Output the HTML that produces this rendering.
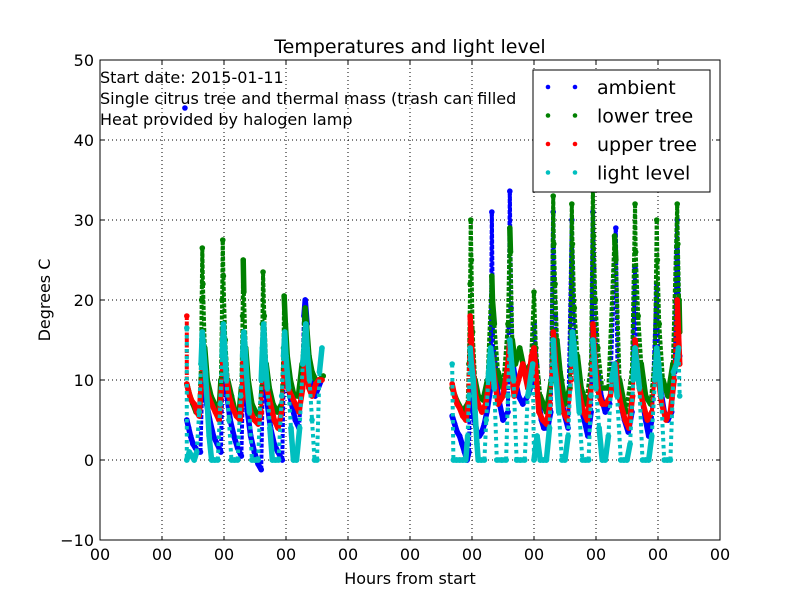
<!DOCTYPE html>
<html><head><meta charset="utf-8">
<style>
body{margin:0;background:#fff;}
svg{display:block;font-family:"DejaVu Sans","Liberation Sans",sans-serif;}
</style></head>
<body>
<svg id="chart" width="800" height="600" viewBox="0 0 800 600" xmlns="http://www.w3.org/2000/svg">
<rect x="0" y="0" width="800" height="600" fill="#fff"/>
<g id="grid"></g>
<g id="series"></g>
<rect x="100" y="60" width="620" height="480" fill="none" stroke="#000" stroke-width="1"/>
<g id="ticks"></g>
<text x="410" y="53" text-anchor="middle" font-size="19">Temperatures and light level</text>
<text x="410" y="584" text-anchor="middle" font-size="16">Hours from start</text>
<text x="50" y="300" text-anchor="middle" font-size="16" transform="rotate(-90 50 300)">Degrees C</text>
<g font-size="16">
<text x="100" y="83">Start date: 2015-01-11</text>
<text x="100" y="104">Single citrus tree and thermal mass (trash can filled</text>
<text x="100" y="125">Heat provided by halogen lamp</text>
</g>
<g id="legend">
<rect x="533" y="70" width="177" height="122" fill="#fff" stroke="#000" stroke-width="1"/>
</g>
</svg>
<script>
const yTicks=[-10,0,10,20,30,40,50];
const xTicks=[0,10,20,30,40,50,60,70,80,90,100];
const xTickLabels=["00","00","00","00","00","00","00","00","00","00","00"];
const seriesNames=["ambient","lower tree","upper tree","light level"];
const seriesColors=["#0000ff","#008000","#ff0000","#00bfbf"];
const ambient=[[13.7,44],[14,5],[14.3,4],[14.6,3],[15,2],[15.4,1.5],[15.8,1],[16.2,1],[16.5,10],[16.8,9],[17.2,7],[17.7,5],[18.3,3],[18.9,2],[19.5,1],[19.8,12],[20.1,10],[20.5,8],[21,5],[21.6,3],[22.2,1.5],[22.8,0.5],[23.1,11],[23.4,9],[23.8,6],[24.3,3],[24.9,1],[25.5,-0.5],[26,-1.2],[26.3,12],[26.6,10],[27,7],[27.5,4],[28.1,2],[28.7,1],[29.4,0],[29.7,14],[30,12],[30.4,9],[30.9,7],[31.5,5],[32.1,4],[32.7,12],[32.9,18],[33.1,20],[33.4,17],[33.8,12],[34.2,9],[34.7,8],[35.2,9],[35.7,10],
[56.8,5.5],[57.2,4.5],[57.6,3.5],[58,3],[58.4,2],[58.8,1],[59.2,0],[59.5,1],[59.7,9],[60,7],[60.4,5],[60.8,3.5],[61.2,3],[61.6,3.5],[62,4.5],[62.4,6],[63,9],[63.2,31],[63.4,14],[63.7,12],[64.2,8],[65,5],[65.8,6],[66.1,33.6],[66.3,19],[66.6,12],[67,10],[67.5,8],[68.2,7],[69,8],[69.8,10],[70,17],[70.4,12],[70.8,7],[71.2,5],[71.6,4],[72.2,4],[72.7,6],[73.1,31],[73.2,24],[73.4,18],[73.7,12],[74.2,9],[74.8,6],[75.5,4],[76.1,30],[76.2,22],[76.5,15],[76.9,10],[77.4,7],[78.1,5],[78.7,3],[79.2,6],[79.5,31],[79.6,24],[79.9,16],[80.3,11],[80.8,8],[81.5,6],[82.2,7],[83.2,29],[83.5,9],[84,7],[84.6,5],[85.2,3.5],[85.8,6],[86.3,24],[86.5,18],[86.9,11],[87.4,8],[88,5],[88.5,3],[89,5],[89.8,22],[90,14],[90.4,9],[91,6],[91.6,5],[92.2,6],[92.7,11],[93.1,30],[93.3,20],[93.5,13]];
const lowerTree=[[14,9.5],[14.5,8],[15,7],[15.5,6],[16,6.5],[16.3,12],[16.4,20],[16.5,26.5],[16.6,22],[16.9,14],[17.3,10],[17.9,8],[18.5,7],[19.2,6],[19.5,10],[19.7,20],[19.8,27.5],[19.9,23],[20.2,15],[20.6,10],[21.2,8],[21.8,6],[22.4,5.5],[22.8,9],[23,18],[23.1,25],[23.2,21],[23.5,14],[23.9,10],[24.5,7],[25.1,6],[25.7,5.5],[26.1,10],[26.2,17],[26.3,23.5],[26.5,18],[26.8,12],[27.3,9],[27.9,7],[28.6,6],[29.3,7],[29.6,14],[29.7,20.5],[29.9,17],[30.2,13],[30.7,10],[31.3,8],[32,8],[32.6,12],[33,17],[33.1,19],[33.3,17],[33.7,13],[34.2,11],[34.8,10],[35.4,10],[36,10.5],
[56.8,9],[57.5,7.5],[58.5,6],[59.3,7],[59.5,12],[59.7,22],[59.8,30],[59.9,25],[60.1,16],[60.5,10],[61,8],[61.8,7.5],[62.5,10],[63.2,23],[63.3,20],[63.6,17],[64.2,11],[65,9],[65.8,17],[66.1,29],[66.2,26],[66.5,15],[67,12],[67.7,14],[68.5,11],[69.5,12],[70,21],[70.3,14],[71,8],[72,6],[72.8,10],[73.1,33],[73.2,27],[73.4,22],[73.7,15],[74.2,11],[75,7],[75.8,9],[76.1,32],[76.2,27],[76.5,19],[77,13],[77.6,9],[78.4,7],[79.2,12],[79.5,34],[79.6,28],[79.9,20],[80.3,14],[81,9],[82,9],[83,28],[83.2,25],[83.8,10],[84.8,6],[85.8,11],[86.3,32],[86.4,26],[86.8,18],[87.3,12],[88,8],[88.8,7],[89.5,13],[89.8,30],[89.9,25],[90.2,17],[90.8,10],[91.6,8],[92.4,12],[93.1,32],[93.2,27],[93.4,20],[93.5,16]];
const upperTree=[[14,18],[14,9.5],[14.3,8.5],[14.7,7.5],[15.2,7],[15.6,6],[16,5.5],[16.3,9],[16.5,16],[16.7,13],[17,10],[17.5,8],[18,7],[18.6,6],[19.2,5],[19.6,9],[19.8,16],[20,14],[20.3,11],[20.8,8],[21.4,6.5],[22,5.5],[22.6,5],[23,9],[23.1,13],[23.3,11],[23.7,8],[24.3,6],[24.9,5],[25.5,4.5],[26,6],[26.3,14],[26.5,12],[26.9,9],[27.5,7],[28.1,5],[28.7,4],[29.3,6],[29.7,13],[29.9,11],[30.3,9],[30.9,8],[31.5,7],[32.1,6],[32.7,9],[33.1,13],[33.3,11],[33.7,9],[34.2,8],[34.8,9.5],[35.3,10],[35.8,10],
[56.8,9.5],[57.2,8],[57.6,7],[58,6.5],[58.5,5.5],[59,5],[59.4,7],[59.7,18],[59.9,15],[60.2,11],[60.6,8],[61,7],[61.6,6],[62.2,7],[62.6,9],[63.2,13],[63.5,11],[64.2,7],[65,8],[65.8,12],[66.1,15],[66.4,11],[66.8,8],[67.5,10],[68.2,12],[69,9],[69.6,13],[70,14],[70.4,10],[70.8,6],[71.4,5],[72,4.5],[72.6,7],[73.1,16],[73.3,14],[73.6,11],[74.1,8],[74.7,6],[75.4,5],[76,10],[76.2,16],[76.5,13],[76.9,10],[77.4,8],[78,6],[78.6,5],[79.2,9],[79.5,17],[79.7,14],[80,11],[80.5,8],[81,7],[81.6,7],[82.3,8],[83.2,12],[83.5,9],[84,7],[84.7,5],[85.3,4],[85.9,8],[86.3,15],[86.6,12],[87,9],[87.6,7],[88.3,5],[89,6],[89.8,14],[90.1,10],[90.6,7],[91.3,5],[92,6],[92.6,10],[93.1,20],[93.3,16],[93.5,12]];
const lightLevel=[[14,16.5],[14,0],[14.4,1],[14.8,0.5],[15.2,0],[15.6,1],[16,6],[16.3,12],[16.5,16],[16.7,14],[17,11],[17.3,7],[17.6,3],[18,0],[18.5,0],[19,0],[19.4,7],[19.7,13],[19.9,17],[20.1,14],[20.4,10],[20.8,5],[21.2,0],[21.7,0],[22.2,0],[22.7,8],[23,13],[23.2,16],[23.4,14],[23.7,10],[24.1,6],[24.5,0],[25,0],[25.5,0],[26,10],[26.2,14],[26.4,17],[26.6,13],[27,9],[27.4,4],[27.8,0],[28.3,0],[28.8,0],[29.3,8],[29.6,13],[29.8,16],[30,13],[30.4,9],[30.8,4],[31.2,0],[31.7,0],[32.2,4],[32.7,12],[33,15],[33.2,17],[33.4,14],[33.8,10],[34.2,5],[34.6,0],[35,0],[35.4,11],[35.8,14],
[56.8,12],[57,0],[57.5,0],[58,0],[58.5,0],[59,0],[59.3,3],[59.5,8],[59.7,14],[59.9,12],[60.2,10],[60.5,6],[60.8,2],[61,0],[61.5,0],[62,0],[62.3,5],[62.6,10],[63,14],[63.3,12],[63.6,9],[64,0],[64.8,0],[65.5,0],[65.8,8],[66.1,15],[66.4,12],[66.7,10],[67.2,0],[67.8,0],[68.5,0],[69,8],[69.8,12],[70,0],[70.5,3],[71,0],[71.5,0],[72,0],[72.5,4],[72.8,10],[73.1,15],[73.3,12],[73.6,10],[74,6],[74.5,0],[75,0],[75.5,3],[76,12],[76.2,16],[76.5,14],[76.9,10],[77.3,6],[77.8,0],[78.3,0],[78.8,0],[79.2,8],[79.5,15],[79.7,13],[80,9],[80.5,4],[81,0],[81.5,0],[82,3],[82.5,10],[83,12],[83.4,8],[84,0],[84.5,0],[85,0],[85.5,2],[86,10],[86.3,14],[86.6,12],[87,9],[87.5,0],[88,0],[88.5,0],[89,3],[89.5,10],[89.8,14],[90.1,12],[90.5,8],[91,0],[91.5,0],[92,0],[92.5,11],[93,12],[93.3,14],[93.5,8]];

const NS="http://www.w3.org/2000/svg";
const X0=100,X1=720,Y0=540,Y1=60,XMIN=0,XMAX=100,YMIN=-10,YMAX=50;
function xs(v){return X0+(v-XMIN)/(XMAX-XMIN)*(X1-X0);}
function ys(v){return Y0-(v-YMIN)/(YMAX-YMIN)*(Y0-Y1);}
function mk(tag,attrs,parent){const e=document.createElementNS(NS,tag);for(const k in attrs)e.setAttribute(k,attrs[k]);parent.appendChild(e);return e;}
const grid=document.getElementById('grid'),ticks=document.getElementById('ticks');
yTicks.forEach(t=>{
  const y=ys(t);
  const g=mk('line',{x1:X0,x2:X1,y1:y,y2:y,stroke:'#000','stroke-dasharray':'1,3','stroke-width':1},grid);
  
  
  mk('line',{x1:X0,x2:X0+4,y1:y,y2:y,stroke:'#000'},ticks);
  mk('line',{x1:X1-4,x2:X1,y1:y,y2:y,stroke:'#000'},ticks);
  const l=mk('text',{x:X0-6,y:y+6,'text-anchor':'end','font-size':16},ticks);
  l.textContent=(t<0?'\u2212'+(-t):t);
  
  
});
xTicks.forEach((t,i)=>{
  const x=xs(t);
  const g=mk('line',{x1:x,x2:x,y1:Y1,y2:Y0,stroke:'#000','stroke-dasharray':'1,3','stroke-width':1},grid);
  
  
  mk('line',{x1:x,x2:x,y1:Y0,y2:Y0-4,stroke:'#000'},ticks);
  mk('line',{x1:x,x2:x,y1:Y1,y2:Y1+4,stroke:'#000'},ticks);
  const l=mk('text',{x:x,y:Y0+20,'text-anchor':'middle','font-size':16},ticks);
  l.textContent=xTickLabels[i];
  
  
});
const layer=document.getElementById('series');
[ambient,lowerTree,upperTree,lightLevel].forEach((data,si)=>{
  const g=mk('g',{},layer);
  
  
  for(let i=1;i<data.length;i++){
    const a=data[i-1],b=data[i];
    if(b[0]-a[0]<1.2&&b[0]-a[0]>=0&&!(si===0&&i===1)){
      const big=Math.abs(b[1]-a[1])>=4.5;
      const attrs={x1:xs(a[0]),y1:ys(a[1]),x2:xs(b[0]),y2:ys(b[1]),stroke:seriesColors[si],'stroke-width':big?4:5.5,'stroke-linecap':big?'butt':'round'};
      if(big){attrs['stroke-dasharray']=(si===3?'3.5,3.5':'4,1.5');}
      mk('line',attrs,g);
    }
  }
  data.forEach(p=>{
    const c=mk('circle',{cx:xs(p[0]),cy:ys(p[1]),r:2.8,fill:seriesColors[si]},g);
    
    
  });
});
const leg=document.getElementById('legend');
seriesNames.forEach((n,i)=>{
  const y=87+i*28.5;
  const e=mk('g',{},leg);
  
  
  mk('circle',{cx:548,cy:y,r:2.3,fill:seriesColors[i]},e);
  mk('circle',{cx:575,cy:y,r:2.3,fill:seriesColors[i]},e);
  const t=mk('text',{x:597,y:y+7,'font-size':19},e);
  t.textContent=n;
});
</script>
</body></html>
